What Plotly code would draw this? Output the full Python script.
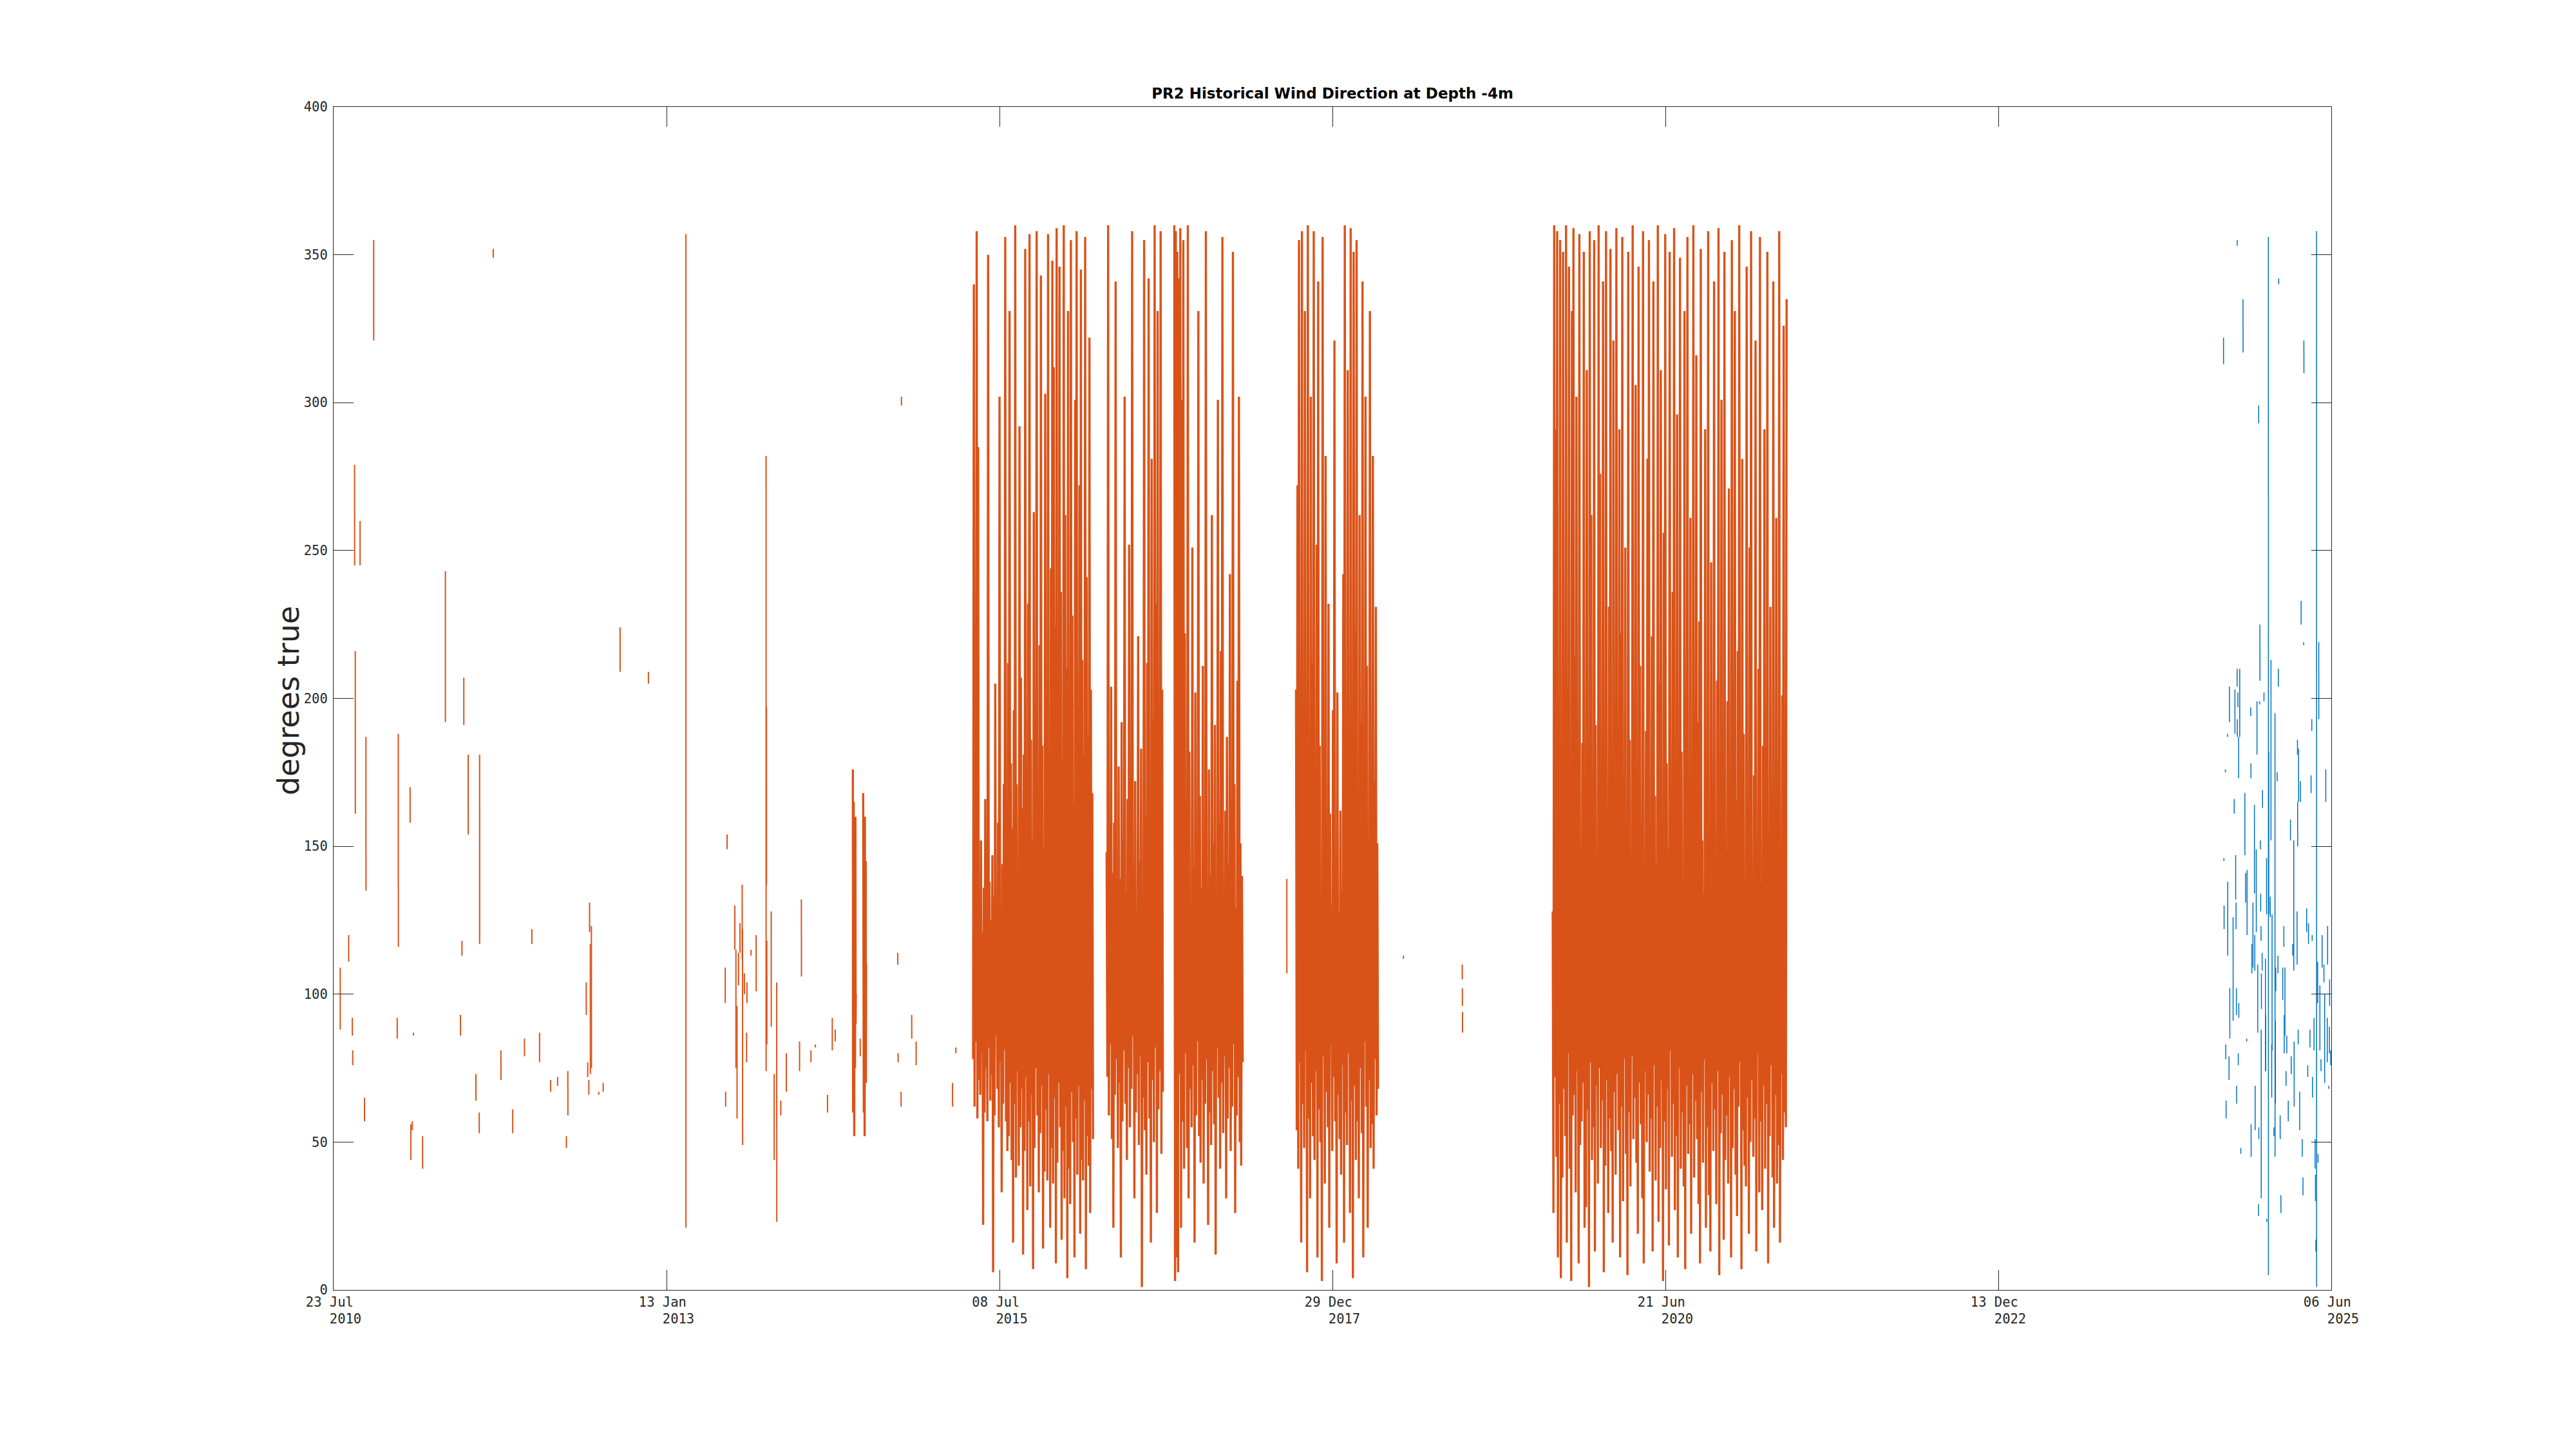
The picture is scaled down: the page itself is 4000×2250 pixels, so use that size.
import pandas as pd
import plotly.graph_objects as go

TITLE = "PR2 Historical Wind Direction at Depth -4m"
Y_LABEL = "degrees true"
X_RANGE = ["2010-07-23", "2025-06-06"]
X_TICK_DATES = ["2010-07-23", "2013-01-13 08:00", "2015-07-08 16:00", "2017-12-29",
                "2020-06-21 08:00", "2022-12-13 16:00", "2025-06-06"]
X_TICK_DAYMONTH = ["23 Jul", "13 Jan", "08 Jul", "29 Dec", "21 Jun", "13 Dec", "06 Jun"]
X_TICK_YEAR = ["2010", "2013", "2015", "2017", "2020", "2022", "2025"]
Y_TICKS = [0, 50, 100, 150, 200, 250, 300, 350, 400]

# ---- orange series: short isolated records (date, successive readings) ----
ORANGE_STICK_DATES = [
    "2010-08-10", "2010-09-02", "2010-09-12", "2010-09-13", "2010-09-18", "2010-09-20",
    "2010-10-03", "2010-10-15", "2010-10-19", "2010-11-09", "2011-01-12", "2011-01-15",
    "2011-02-16", "2011-02-18", "2011-02-22", "2011-02-25", "2011-03-22", "2011-05-23",
    "2011-07-03", "2011-07-07", "2011-07-12", "2011-07-24", "2011-08-14", "2011-08-23",
    "2011-08-24", "2011-09-30", "2011-10-21", "2011-11-22", "2011-12-24", "2012-01-13",
    "2012-02-03", "2012-03-04", "2012-03-23", "2012-04-16", "2012-04-20", "2012-06-09",
    "2012-06-13", "2012-06-16", "2012-06-18", "2012-06-20", "2012-06-23", "2012-07-13",
    "2012-07-25", "2012-09-09", "2012-11-25", "2013-03-07",
    "2013-06-22", "2013-06-23", "2013-06-27", "2013-07-18", "2013-07-21", "2013-07-24",
    "2013-07-28", "2013-08-01", "2013-08-07", "2013-08-08", "2013-08-13", "2013-08-19",
    "2013-08-20", "2013-08-31", "2013-09-14", "2013-10-11", "2013-10-12", "2013-10-13",
    "2013-10-25", "2013-11-02", "2013-11-09", "2013-11-20", "2013-12-05", "2014-01-10",
    "2014-01-15", "2014-02-10", "2014-02-22", "2014-03-27", "2014-04-09", "2014-04-17",
    "2014-06-24", "2014-10-04", "2014-10-05", "2014-10-13", "2014-10-14", "2014-11-11",
    "2014-11-23", "2015-03-02", "2015-03-11",
    "2017-08-27", "2018-07-10", "2018-12-17", "2018-12-17 08:00", "2018-12-17 16:00",
]
ORANGE_STICK_VALUES = [
    [109, 88], [120, 111], [92, 86], [81, 76], [279, 262, 245], [216, 190, 161],
    [260, 245], [65, 57], [187, 135], [355, 321], [92, 85], [188, 116],
    [170, 158], [56, 44], [57, 54], [87, 86], [52, 41], [243, 192],
    [93, 86], [118, 113], [207, 191], [181, 154], [73, 64], [60, 53],
    [181, 117], [352, 349], [81, 71], [61, 53], [85, 79], [122, 117],
    [87, 77], [71, 67], [72, 69], [52, 48], [74, 59], [104, 93],
    [77, 72], [71, 66], [131, 121], [117, 95, 110, 73], [123, 80, 115, 75], [67, 66],
    [70, 67], [224, 209], [209, 205], [357, 21],
    [109, 97], [67, 62], [154, 149], [130, 115], [115, 75], [96, 58],
    [114, 103], [124, 114], [137, 112], [122, 68, 49], [107, 100], [87, 77],
    [104, 97], [115, 113], [120, 101], [282, 74], [197, 137], [118, 83],
    [128, 89], [73, 44], [104, 23], [64, 59], [80, 67], [84, 74],
    [132, 106], [81, 77], [83, 82], [66, 60], [92, 81], [88, 84],
    [85, 79], [114, 110], [80, 77], [67, 62], [302, 299], [93, 85],
    [84, 76], [70, 62], [82, 80],
    [139, 107], [113, 112], [110, 105], [102, 96], [94, 87],
]

# ---- orange series: continuous record periods (start, end, readings) ----
ORANGE_BLOCK_START = ["2014-06-04", "2014-07-02", "2015-04-27", "2016-04-24", "2016-10-25",
                      "2017-09-21", "2019-08-20"]
ORANGE_BLOCK_END = ["2014-06-12", "2014-07-10", "2016-03-18", "2016-09-24", "2017-04-29",
                    "2018-05-02", "2021-05-17"]
ORANGE_BLOCK_VALUES = [
    [176, 60, 150, 95, 165, 70, 130, 52, 140, 85, 120, 75, 110, 160, 90, 100],
    [168, 80, 150, 60, 140, 95, 125, 52, 160, 75, 135, 88, 145, 70, 110],
    [78, 340, 62, 142, 84, 358, 58, 285, 71, 127, 66, 152, 80, 121, 22, 136, 60, 166, 75, 119,
     57, 350, 82, 138, 64, 125, 73, 147, 6, 133, 59, 205, 86, 117, 68, 158, 55, 302, 77, 129,
     33, 144, 63, 171, 81, 356, 57, 123, 47, 212,
     52, 331, 70, 178, 44, 156, 16, 196, 63, 360, 38, 171, 74, 139, 42, 292, 55, 207, 68, 163,
     12, 181, 47, 352, 72, 143, 27, 232, 57, 357, 35, 186, 66, 152, 7, 263, 48, 198, 75, 358,
     59, 167, 33, 218, 53, 343, 69, 184, 14, 149, 40, 303, 61, 192, 37, 357, 73, 175, 21, 244,
     48, 348, 36, 312, 65, 224, 9, 359, 43, 188, 70, 346, 55, 236, 17, 179, 47, 360, 31, 262,
     62, 210, 4, 331, 41, 183, 29, 355, 67, 228, 50, 164, 11, 301, 58, 358, 39, 197, 69, 272,
     19, 345, 44, 213, 37, 181, 64, 356, 7, 241, 52, 187, 42, 322, 26, 203, 68, 168, 51],
    [148, 72, 360, 59, 131, 83, 204, 51, 141, 21, 158, 66, 341, 78, 127, 48, 177, 70, 139, 11,
     192, 57, 152, 81, 302, 63, 134, 44, 166, 75, 252, 55, 129, 68, 358, 86, 142, 31, 172, 60,
     125, 73, 221, 49, 145, 79, 183, 1, 132, 65, 355, 54, 160, 39, 212, 77, 342, 58, 136, 16,
     281, 71, 193, 50, 360, 82, 232, 26, 331, 61, 171, 74, 358, 46, 203, 67],
    [360, 3, 358, 11, 351, 6, 342, 73, 359, 21, 301, 57, 355, 41, 222, 80, 153, 48, 360, 31,
     182, 68, 128, 55, 251, 76, 143, 16, 202, 59, 131, 84, 331, 52, 167, 43, 136, 71, 211, 36,
     149, 63, 358, 78, 127, 22, 176, 60, 140, 49, 262, 74, 151, 56, 191, 12, 134, 82, 301, 65,
     158, 41, 216, 70, 356, 53, 125, 79, 162, 31, 187, 58, 144, 75, 242, 47, 135, 62, 351, 83,
     171, 26, 129, 59, 206, 72, 302, 50, 151, 42, 140, 77],
    [203, 54, 272, 41, 355, 77, 141, 16, 358, 63, 172, 48, 331, 81, 127, 6, 360, 58, 152, 31,
     302, 70, 212, 52, 358, 44, 133, 74, 252, 11, 341, 61, 184, 50, 126, 3, 356, 79, 152, 36,
     282, 67, 139, 55, 232, 21, 161, 83, 130, 47, 196, 72, 321, 57, 146, 9, 202, 66, 128, 51,
     162, 39, 135, 76, 242, 16, 360, 60, 147, 49, 311, 80, 171, 26, 359, 64, 125, 4, 351, 69,
     222, 44, 355, 57, 144, 31, 262, 75, 192, 53, 341, 11, 137, 84, 302, 62, 211, 21, 146, 71,
     331, 48, 129, 56, 282, 41, 172, 78, 231, 59, 151, 68],
    [128, 26, 360, 72, 291, 45, 358, 11, 176, 63, 355, 4, 142, 38, 351, 68, 195, 52, 360, 16,
     133, 80, 346, 41, 160, 3, 331, 59, 359, 66, 214, 33, 302, 74, 138, 9, 357, 49, 150, 57,
     185, 70, 351, 21, 125, 28, 311, 61, 168, 1, 358, 77, 262, 44, 131, 55, 355, 13, 191, 69,
     147, 36, 360, 75, 276, 48, 139, 64, 341, 6, 176, 42, 358, 71, 127, 26, 231, 58, 352, 47,
     164, 16, 321, 67, 198, 39, 359, 73, 135, 54, 291, 11, 222, 62, 356, 30, 154, 78, 251, 46,
     129, 5, 351, 60, 186, 35, 145, 79, 360, 51, 172, 65, 306, 43, 136, 19, 346, 70, 211, 56,
     158, 31, 358, 9, 140, 74, 189, 50, 281, 66, 355, 40, 126, 58, 221, 13, 341, 76, 167, 37,
     143, 62, 360, 23, 205, 48, 311, 71, 131, 3, 256, 57, 357, 34, 178, 68, 149, 15, 351, 81,
     132, 45, 236, 63, 359, 27, 161, 52, 296, 11, 137, 75, 349, 41, 182, 60, 124, 35, 331, 7,
     201, 69, 356, 46, 144, 56, 261, 19, 170, 73, 360, 38, 129, 64, 316, 51, 192, 29, 226, 9,
     352, 67, 152, 43, 134, 78, 291, 21, 175, 55, 358, 32, 141, 13, 246, 70, 163, 47, 341, 61,
     127, 29, 206, 74, 359, 5, 148, 53, 301, 66, 180, 17, 351, 44, 138, 59, 199, 36, 271, 72,
     155, 11, 355, 48, 130, 68, 331, 39, 166, 25, 216, 62, 360, 77, 143, 7, 281, 54, 188, 42,
     128, 35, 346, 65, 159, 19, 251, 50, 358, 71, 136, 45, 174, 58, 321, 13, 146, 80, 210, 33,
     356, 57, 133, 27, 184, 69, 291, 41, 151, 63, 351, 9, 125, 52, 231, 76, 169, 38, 341, 21,
     139, 66, 261, 36, 157, 49, 358, 16, 128, 73, 201, 44, 326, 60, 142, 55, 335],
]

# ---- blue series: short isolated records ----
BLUE_STICK_DATES = [
    "2024-08-17", "2024-08-18", "2024-08-18 12:00", "2024-08-22", "2024-08-23", "2024-08-24",
    "2024-08-28", "2024-08-28 12:00", "2024-09-01", "2024-09-02", "2024-09-03", "2024-09-12",
    "2024-09-15", "2024-09-17", "2024-09-19", "2024-09-20", "2024-09-21", "2024-09-21 12:00",
    "2024-09-23", "2024-09-23 06:00", "2024-09-23 12:00", "2024-09-25", "2024-09-26",
    "2024-09-27", "2024-09-27 12:00", "2024-09-30", "2024-10-03", "2024-10-09", "2024-10-14",
    "2024-10-16", "2024-10-19", "2024-10-20", "2024-10-30", "2024-10-30 12:00", "2024-10-31",
    "2024-11-02", "2024-11-05", "2024-11-09", "2024-11-10", "2024-11-11", "2024-11-14",
    "2024-11-16", "2024-11-18", "2024-11-20", "2024-11-20 12:00", "2024-11-21", "2024-11-23",
    "2024-11-24", "2024-11-25", "2024-11-26", "2024-11-27", "2024-11-27 12:00", "2024-11-28",
    "2024-11-30", "2024-12-01", "2024-12-05", "2024-12-09", "2024-12-09 12:00", "2024-12-12",
    "2024-12-12 12:00", "2024-12-17", "2024-12-18", "2024-12-22", "2024-12-24", "2024-12-26",
    "2024-12-27", "2025-01-01", "2025-01-04", "2025-01-05", "2025-01-06", "2025-01-10",
    "2025-01-12", "2025-01-13", "2025-01-14", "2025-01-18", "2025-01-20", "2025-01-25",
    "2025-01-28", "2025-01-29", "2025-01-31", "2025-02-03", "2025-02-05", "2025-02-09",
    "2025-02-15", "2025-02-17", "2025-02-21", "2025-02-24", "2025-02-25", "2025-03-05",
    "2025-03-06", "2025-03-06 12:00", "2025-03-08", "2025-03-09", "2025-03-12", "2025-03-14",
    "2025-03-16", "2025-03-19", "2025-03-21", "2025-03-23", "2025-03-23 12:00", "2025-03-31",
    "2025-04-03", "2025-04-05", "2025-04-09", "2025-04-12", "2025-04-14", "2025-04-15",
    "2025-04-16", "2025-04-20", "2025-04-23", "2025-04-24", "2025-04-25", "2025-04-27",
    "2025-04-30", "2025-05-01", "2025-05-03", "2025-05-06", "2025-05-09", "2025-05-12",
    "2025-05-17", "2025-05-19", "2025-05-22", "2025-05-26", "2025-05-27", "2025-05-30",
    "2025-06-01", "2025-06-01 12:00", "2025-06-04",
]
BLUE_STICK_VALUES = [
    [322, 313], [146, 145], [130, 122], [176, 175], [83, 78], [64, 58],
    [188, 187], [138, 113], [79, 71], [204, 192], [102, 85], [126, 91],
    [166, 161], [203, 188], [147, 132], [131, 122], [102, 93], [69, 63],
    [210, 204], [355, 353], [193, 187], [202, 197], [80, 76],
    [187, 173], [97, 92], [210, 187], [48, 46], [335, 317], [168, 147],
    [141, 131], [85, 84], [142, 120], [197, 194], [178, 173], [56, 45],
    [117, 107], [131, 109], [164, 134], [120, 108], [69, 54], [149, 121],
    [199, 181], [110, 87], [29, 25], [299, 293], [55, 51], [199, 198],
    [225, 206], [152, 149], [134, 128], [123, 118], [88, 31], [107, 95],
    [114, 108], [169, 163], [202, 199], [112, 74], [93, 74], [146, 127],
    [24, 23], [356, 5], [182, 127], [133, 126], [213, 152], [83, 65],
    [127, 81], [55, 52], [195, 45], [91, 63], [109, 101], [175, 172],
    [113, 107], [210, 204], [342, 340], [59, 51], [32, 26], [109, 98],
    [123, 116], [93, 80], [109, 86], [74, 69], [86, 80], [64, 57],
    [159, 152], [79, 73], [117, 113], [152, 108], [84, 62], [128, 110],
    [186, 181], [165, 150], [88, 83], [183, 165], [67, 54], [172, 165],
    [233, 225], [51, 45], [38, 32], [219, 218], [321, 310], [129, 121],
    [76, 72], [124, 117], [88, 82], [174, 168], [193, 189], [120, 118],
    [72, 65], [92, 81], [51, 41], [39, 30], [17, 13], [358, 1],
    [111, 97], [46, 43], [219, 193], [103, 81], [78, 74], [120, 109],
    [110, 104], [100, 70], [176, 165], [92, 77], [123, 110], [69, 68],
    [89, 80], [105, 96], [81, 76],
]

ORANGE = "#D95319"
BLUE = "#0072BD"
AXIS_COLOR = "#262626"


def build(stick_dates=(), stick_values=(), block_start=(), block_end=(), block_values=()):
    xs, ys = [], []
    for d, vals in zip(stick_dates, stick_values):
        t0 = pd.Timestamp(d)
        for i, v in enumerate(vals):
            xs.append(t0 + pd.Timedelta(hours=2 * i))
            ys.append(v)
        xs.append(None)
        ys.append(None)
    for s, e, vals in zip(block_start, block_end, block_values):
        times = pd.date_range(s, e, periods=len(vals))
        xs.extend(list(times))
        ys.extend(vals)
        xs.append(None)
        ys.append(None)
    return xs, ys


osx, osy = build(ORANGE_STICK_DATES, ORANGE_STICK_VALUES)
obx, oby = build(block_start=ORANGE_BLOCK_START, block_end=ORANGE_BLOCK_END,
                 block_values=ORANGE_BLOCK_VALUES)
bx, by = build(BLUE_STICK_DATES, BLUE_STICK_VALUES)

fig = go.Figure()
fig.add_trace(go.Scatter(x=obx, y=oby, mode="lines", line=dict(color=ORANGE, width=3.4),
                         connectgaps=False, showlegend=False))
fig.add_trace(go.Scatter(x=osx, y=osy, mode="lines", line=dict(color=ORANGE, width=2),
                         connectgaps=False, showlegend=False))
fig.add_trace(go.Scatter(x=bx, y=by, mode="lines", line=dict(color=BLUE, width=1.5),
                         connectgaps=False, showlegend=False))

NB = "\u00a0"
tick_text = [f"{dm}{NB}<br>{NB*3}{yr}" for dm, yr in zip(X_TICK_DAYMONTH, X_TICK_YEAR)]

# page offset of the figure (default body margin)
OFF = 8
W, H = 4000, 2250
# plot-area edges as seen on the page
L, R, T, B = 518, 3620, 166, 2003

axis_common = dict(
    showgrid=False, zeroline=False, showline=True, linecolor=AXIS_COLOR, linewidth=1.3,
    mirror="ticks", ticks="inside", ticklen=31, tickwidth=1.3, tickcolor=AXIS_COLOR,
    tickfont=dict(family="DejaVu Sans Mono", size=20.5, color=AXIS_COLOR),
)

fig.update_layout(
    width=W, height=H,
    margin=dict(l=L - OFF, r=W - (R - OFF), t=T - OFF, b=H - (B - OFF), pad=0),
    paper_bgcolor="white", plot_bgcolor="white",
    showlegend=False,
    title=dict(text=TITLE, x=0.5, xref="paper", xanchor="center",
               y=1 - (145 - OFF) / H, yref="container", yanchor="middle",
               font=dict(family="DejaVu Sans", size=23, color="black", weight="bold")),
    xaxis=dict(type="date", range=X_RANGE, tickmode="array",
               tickvals=X_TICK_DATES, ticktext=tick_text, **axis_common),
    yaxis=dict(range=[0, 400], tickmode="array", tickvals=Y_TICKS,
               ticktext=[str(v) for v in Y_TICKS], ticklabelstandoff=4, **axis_common),
    annotations=[dict(text=Y_LABEL, textangle=-90, xref="paper", yref="paper",
                      x=(448 - L) / (R - L), y=(B - 1088) / (B - T),
                      xanchor="center", yanchor="middle", showarrow=False,
                      font=dict(family="DejaVu Sans", size=46, color=AXIS_COLOR))],
)

fig.write_html("out.html")
